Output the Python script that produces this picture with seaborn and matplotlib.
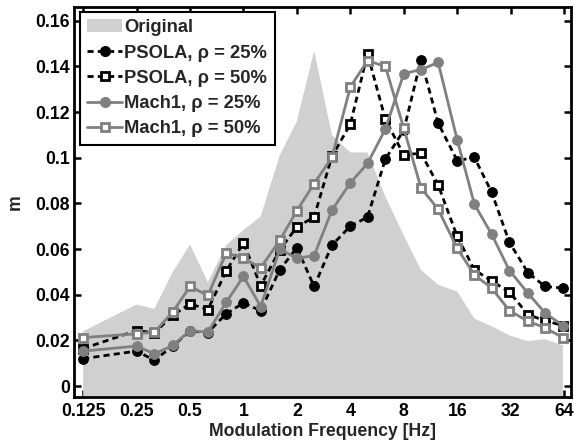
import numpy as np
import pandas as pd
import matplotlib
matplotlib.use("Agg")
import matplotlib.pyplot as plt
import seaborn as sns
from matplotlib.patches import Patch
from matplotlib.lines import Line2D

freq = [0.125, 0.25, 0.315, 0.4, 0.5, 0.63, 0.8, 1, 1.25, 1.6, 2, 2.5, 3.15,
        4, 5, 6.3, 8, 10, 12.5, 16, 20, 25, 31.5, 40, 50, 63]
original = [0.024, 0.0357, 0.0338, 0.050, 0.062, 0.0454, 0.0617, 0.0683, 0.0743,
            0.101, 0.116, 0.1468, 0.110, 0.1023, 0.1023, 0.083, 0.066, 0.0509,
            0.0443, 0.0414, 0.0295, 0.0262, 0.0222, 0.0197, 0.0205, 0.0178]
psola25 = [0.012, 0.0153, 0.0113, 0.0175, 0.0241, 0.0234, 0.0317, 0.0364, 0.033,
           0.0509, 0.0606, 0.0436, 0.0617, 0.070, 0.074, 0.0994, 0.112, 0.1429,
           0.1151, 0.0987, 0.1001, 0.0849, 0.0629, 0.0497, 0.0436, 0.0429]
psola50 = [0.0164, 0.0243, 0.0233, 0.031, 0.036, 0.0335, 0.0504, 0.0627, 0.0439,
           0.0596, 0.0697, 0.074, 0.1006, 0.1147, 0.1455, 0.1168, 0.1012, 0.102,
           0.0880, 0.0655, 0.0509, 0.046, 0.0412, 0.0313, 0.0286, 0.0265]
mach25 = [0.0153, 0.0175, 0.0141, 0.0178, 0.0243, 0.0236, 0.0367, 0.048, 0.0348,
          0.0599, 0.056, 0.0571, 0.077, 0.089, 0.0975, 0.1125, 0.1368, 0.1386,
          0.1417, 0.1078, 0.0796, 0.0665, 0.0506, 0.0407, 0.032, 0.0265]
mach50 = [0.0212, 0.0229, 0.0236, 0.0325, 0.0436, 0.0397, 0.0583, 0.056, 0.0518,
          0.0638, 0.0768, 0.0887, 0.1001, 0.131, 0.1425, 0.140, 0.1129, 0.0868,
          0.0774, 0.0603, 0.0487, 0.0429, 0.033, 0.0284, 0.0255, 0.0212]

xticks = [0.125, 0.25, 0.5, 1, 2, 4, 8, 16, 32, 64]
xticklabels = ["0.125", "0.25", "0.5", "1", "2", "4", "8", "16", "32", "64"]
yticks = [0, 0.02, 0.04, 0.06, 0.08, 0.1, 0.12, 0.14, 0.16]
yticklabels = ["0", "0.02", "0.04", "0.06", "0.08", "0.1", "0.12", "0.14", "0.16"]

sns.set_theme(style="ticks")
plt.rcParams["font.family"] = ["Liberation Sans", "DejaVu Sans"]
plt.rcParams["font.weight"] = "bold"
plt.rcParams["axes.labelweight"] = "bold"

fs = 12.7
lfs = 13.2
fig = plt.figure(figsize=(5.74, 4.46), dpi=100)
ax = fig.add_axes([74 / 574, 1 - 397 / 446, (571 - 74) / 574, (397 - 7) / 446])

BLACK = "#000000"
GRAY = "#808080"
FILL = "#d0d0d0"

ax.fill_between(freq, original, -1, color=FILL, linewidth=0, zorder=1)

df = pd.DataFrame({"freq": freq, "psola25": psola25, "psola50": psola50,
                   "mach25": mach25, "mach50": mach50})

dash = (0, (2.2, 1.5))
sns.lineplot(data=df, x="freq", y="psola25", ax=ax, color=BLACK, lw=2.0,
             linestyle=dash, marker="o", markersize=7, markerfacecolor=BLACK,
             markeredgecolor=BLACK, zorder=3)
sns.lineplot(data=df, x="freq", y="psola50", ax=ax, color=BLACK, lw=2.0,
             linestyle=dash, marker="s", markersize=5.5, markerfacecolor="white",
             markeredgecolor=BLACK, markeredgewidth=2.0, zorder=4)
sns.lineplot(data=df, x="freq", y="mach25", ax=ax, color=GRAY, lw=2.0,
             linestyle="-", marker="o", markersize=7, markerfacecolor=GRAY,
             markeredgecolor=GRAY, zorder=5)
sns.lineplot(data=df, x="freq", y="mach50", ax=ax, color=GRAY, lw=2.0,
             linestyle="-", marker="s", markersize=5.5, markerfacecolor="white",
             markeredgecolor=GRAY, markeredgewidth=2.0, zorder=6)

ax.set_xscale("log", base=2)
ax.set_xlim(0.111, 70)
ax.set_ylim(-0.0048, 0.166)
ax.set_xticks(xticks)
ax.set_xticklabels(xticklabels)
ax.xaxis.set_minor_locator(matplotlib.ticker.NullLocator())
ax.set_yticks(yticks)
ax.set_yticklabels(yticklabels)
ax.tick_params(axis="both", which="major", direction="in", length=5, width=1.8,
               labelsize=fs, top=True, right=True, colors=BLACK)
ax.tick_params(axis="x", pad=4)
ax.tick_params(axis="y", pad=3)
for lab in ax.get_xticklabels() + ax.get_yticklabels():
    lab.set_fontweight("bold")
for sp in ax.spines.values():
    sp.set_linewidth(2.0)
    sp.set_color(BLACK)
    sp.set_visible(True)

ax.set_xlabel("Modulation Frequency [Hz]", fontsize=fs, fontweight="bold", labelpad=2.5)
ax.set_ylabel("m", fontsize=fs, fontweight="bold", labelpad=8)

handles = [
    Patch(facecolor=FILL, edgecolor="none", label="Original"),
    Line2D([], [], color=BLACK, lw=2.0, linestyle=dash, marker="o", markersize=7,
           markerfacecolor=BLACK, label="PSOLA, ρ = 25%"),
    Line2D([], [], color=BLACK, lw=2.0, linestyle=dash, marker="s", markersize=5.5,
           markerfacecolor="white", markeredgecolor=BLACK, markeredgewidth=2.0,
           label="PSOLA, ρ = 50%"),
    Line2D([], [], color=GRAY, lw=2.0, linestyle="-", marker="o", markersize=7,
           markerfacecolor=GRAY, markeredgecolor=GRAY, label="Mach1, ρ = 25%"),
    Line2D([], [], color=GRAY, lw=2.0, linestyle="-", marker="s", markersize=5.5,
           markerfacecolor="white", markeredgecolor=GRAY, markeredgewidth=2.0,
           label="Mach1, ρ = 50%"),
]
leg = ax.legend(handles=handles, loc="upper left", bbox_to_anchor=(6 / 497, 1 - 5 / 390),
                prop={"weight": "bold", "size": lfs}, frameon=True,
                fancybox=False, framealpha=1, edgecolor=BLACK, borderpad=0.4,
                labelspacing=0.45, handlelength=1.9, handletextpad=0.12,
                borderaxespad=0)
leg.get_frame().set_linewidth(1.5)

fig.savefig("out.png", dpi=100)
